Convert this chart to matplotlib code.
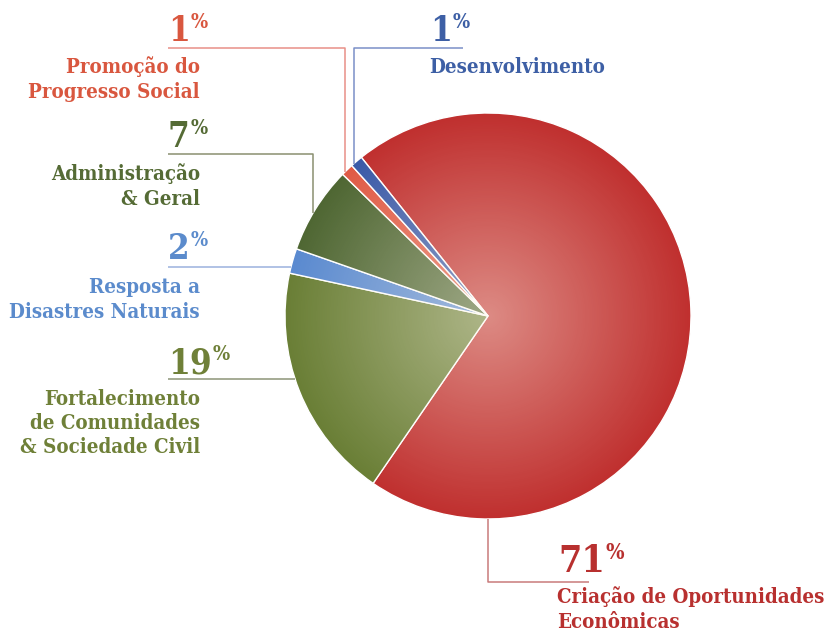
import numpy as np
import matplotlib
matplotlib.use("Agg")
import matplotlib.pyplot as plt
from matplotlib.patches import Circle

# ---------------- data ----------------
categories = [
    "Criação de Oportunidades\nEconômicas",
    "Fortalecimento\nde Comunidades\n& Sociedade Civil",
    "Resposta a\nDisastres Naturais",
    "Administração\n& Geral",
    "Promoção do\nProgresso Social",
    "Desenvolvimento",
]
values = [71, 19, 2, 7, 1, 1]
pct_labels = ["71", "19", "2", "7", "1", "1"]

slice_colors = ["#c0302f", "#6a7f36", "#5a8ad0", "#4f6733", "#e05a45", "#3a5aa8"]
text_colors = ["#b8302f", "#6f8038", "#5b8bcc", "#556b35", "#d9573f", "#3d5fa5"]
line_colors = ["#c97a7a", "#8d9478", "#9bb2de", "#8a9070", "#e89088", "#7a90c8"]

FONT = ["DejaVu Serif"]
STRETCH = "condensed"

# ---------------- layout ----------------
W, H = 833, 631
fig = plt.figure(figsize=(W / 100, H / 100), dpi=100)
ax = fig.add_axes([0, 0, 1, 1])

cx, cy_img, R = 488, 316, 203
cy = H - cy_img


def Y(y):
    return H - y


wedges, _ = ax.pie(values, colors=slice_colors, startangle=128.6, counterclock=False,
                   center=(cx, cy), radius=R,
                   wedgeprops=dict(edgecolor="white", linewidth=1.0))

# radial highlight
n = 600
yy, xx = np.mgrid[-1:1:n * 1j, -1:1:n * 1j]
rr = np.sqrt(xx ** 2 + yy ** 2)
alpha = np.clip(0.46 * (1 - rr), 0, 1)
img = np.zeros((n, n, 4))
img[..., 0] = 1.0
img[..., 1] = 0.97
img[..., 2] = 0.92
img[..., 3] = alpha
im = ax.imshow(img, extent=[cx - R, cx + R, cy - R, cy + R], origin="lower",
               zorder=3, interpolation="bilinear")
im.set_clip_path(Circle((cx, cy), R, transform=ax.transData))

ax.set_xlim(0, W)
ax.set_ylim(0, H)
ax.set_aspect("equal")
ax.axis("off")


def edge_y(x, upper=True):
    d = np.sqrt(max(R ** 2 - (x - cx) ** 2, 0))
    return (cy_img - d) if upper else (cy_img + d)


def edge_x(y):
    d = np.sqrt(max(R ** 2 - (y - cy_img) ** 2, 0))
    return cx - d


lw = 1.1
leaders = {
    4: [(168, 48), (345, 48), (345, edge_y(345))],
    5: [(463, 48), (354, 48), (354, edge_y(354))],
    3: [(168, 154), (313, 154), (313, edge_y(313))],
    2: [(168, 267), (edge_x(267), 267)],
    1: [(168, 379), (edge_x(379), 379)],
    0: [(cx, edge_y(cx, upper=False)), (cx, 582), (589, 582)],
}
for i, pts in leaders.items():
    xs = [p[0] for p in pts]
    ys = [Y(p[1]) for p in pts]
    ax.plot(xs, ys, color=line_colors[i], lw=lw, zorder=1, solid_capstyle="butt")

fig.canvas.draw()
renderer = fig.canvas.get_renderer()
inv = ax.transData.inverted()
CAP = 0.729


def pct(i, x, y, size):
    t = ax.text(x, Y(y), pct_labels[i], fontsize=size, fontweight="bold", family=FONT,
                fontstretch=STRETCH, color=text_colors[i], ha="left", va="baseline")
    bb = t.get_window_extent(renderer)
    x1 = inv.transform((bb.x1, bb.y1))[0]
    size_px = size * 100 / 72
    psize = size * 0.58
    off = CAP * size_px - CAP * psize * 100 / 72 + 2
    ax.text(x1 + 1.0, Y(y - off), "%", fontsize=psize, fontweight="bold",
            family=FONT, fontstretch=STRETCH, color=text_colors[i], ha="left",
            va="baseline")


def label(i, x, ys, ha, size=14.7):
    for line, yb in zip(categories[i].split("\n"), ys):
        ax.text(x, Y(yb), line, fontsize=size, fontweight="bold", family=FONT,
                fontstretch=STRETCH, color=text_colors[i], ha=ha, va="baseline")


NS = 25
pct(4, 168, 41, NS)
label(4, 200, [73, 98], "right")
pct(5, 430, 41, NS)
label(5, 429, [73], "left")
pct(3, 168, 147, NS)
label(3, 200, [180, 205], "right")
pct(2, 168, 259, NS)
label(2, 200, [293, 318], "right")
pct(1, 168, 373, NS)
label(1, 200, [405, 429, 453], "right")
pct(0, 558, 572, 27)
label(0, 557, [603, 628], "left")

fig.savefig("out.png", dpi=100)
